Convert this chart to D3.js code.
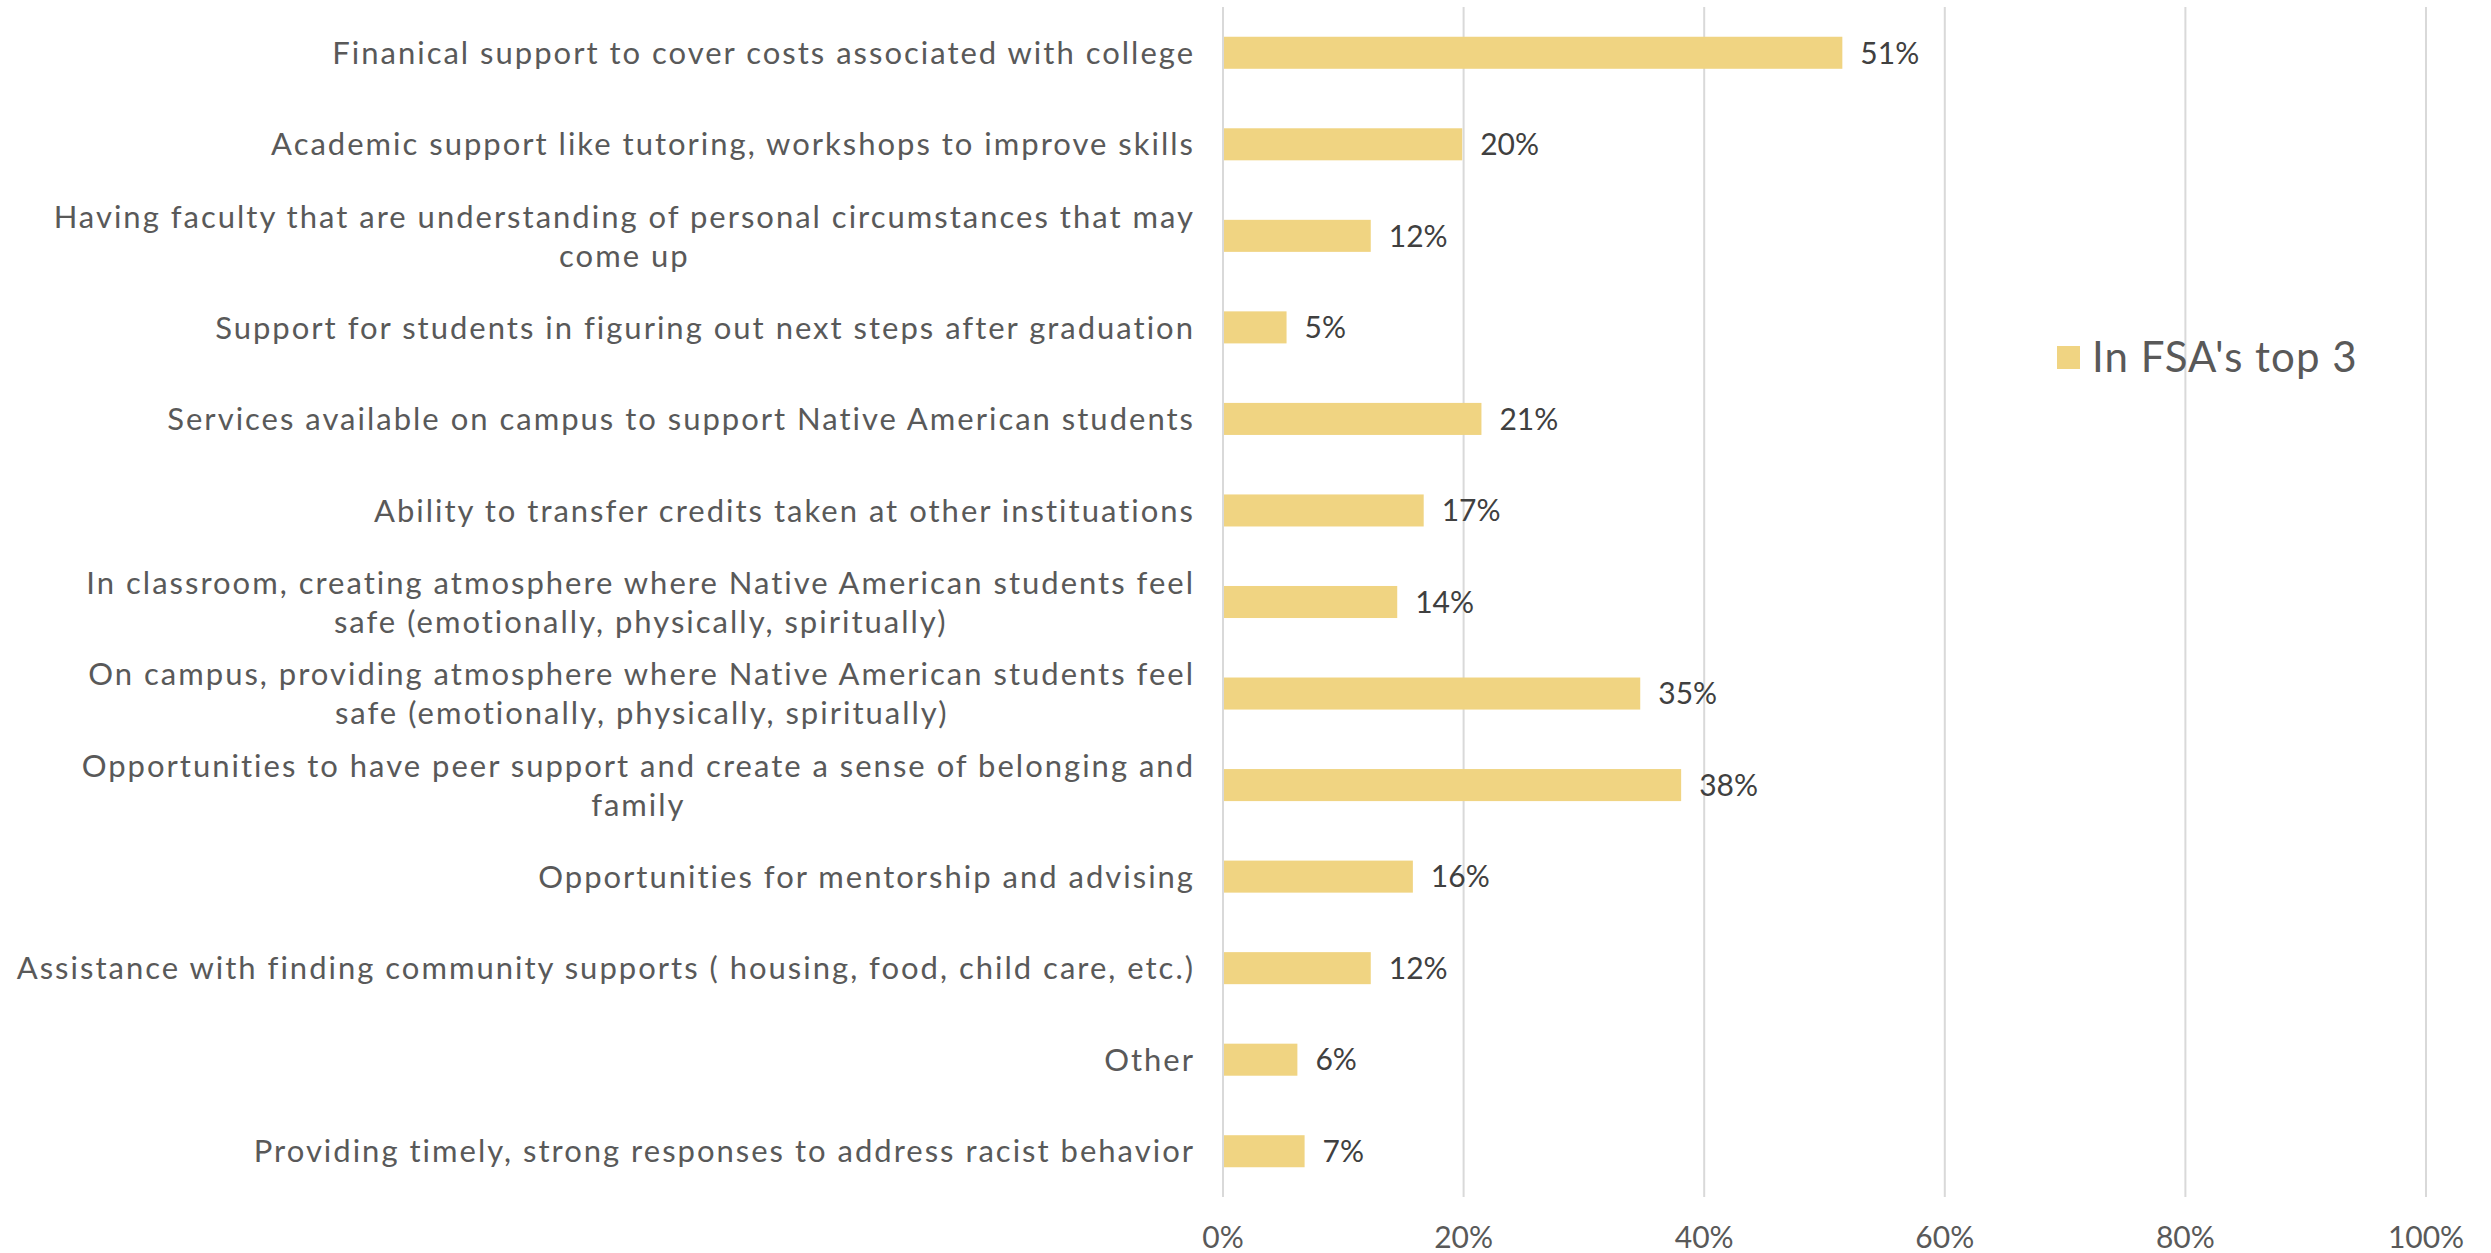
<!DOCTYPE html>
<html>
<head>
<meta charset="utf-8">
<script src="https://cdn.jsdelivr.net/npm/d3@7"></script>
<style>
  body { margin: 0; background: #fff; }
  svg { display: block; }
</style>
</head>
<body>
<div id="chart"></div>
<script>
"use strict";

// categories (line breaks as in the original chart)
var categories = [
    "Finanical support to cover costs associated with college",
    "Academic support like tutoring, workshops to improve skills",
    "Having faculty that are understanding of personal circumstances that may\ncome up",
    "Support for students in figuring out next steps after graduation",
    "Services available on campus to support Native American students",
    "Ability to transfer credits taken at other instituations",
    "In classroom, creating atmosphere where Native American students feel\nsafe (emotionally, physically, spiritually)",
    "On campus, providing atmosphere where Native American students feel\nsafe (emotionally, physically, spiritually)",
    "Opportunities to have peer support and create a sense of belonging and\nfamily",
    "Opportunities for mentorship and advising",
    "Assistance with finding community supports ( housing, food, child care, etc.)",
    "Other",
    "Providing timely, strong responses to address racist behavior"
];

// share of respondents with the item in their top 3 (%)
var values = [51.4, 19.8, 12.2, 5.2, 21.4, 16.6, 14.4, 34.6, 38.0, 15.7, 12.2, 6.1, 6.7];

var xTicks = [0, 20, 40, 60, 80, 100];
var seriesName = "In FSA's top 3";

var data = categories.map(function (c, i) { return { cat: c, value: values[i] }; });

// set the dimensions and margins of the graph
var W = 2491, H = 1253;
var margin = { top: 7, left: 1223, bottom: 56 },
    width = 1203,
    height = H - margin.top - margin.bottom;

var barColor = "#f0d482";
var fontFam = "'Century Gothic', Lato, 'DejaVu Sans', sans-serif";

var svg = d3.select("#chart").append("svg")
    .attr("width", W)
    .attr("height", H);

var g = svg.append("g")
    .attr("transform", "translate(" + margin.left + "," + margin.top + ")");

// set the ranges
var x = d3.scaleLinear().domain([0, 100]).range([0, width]);
var y = d3.scaleBand().domain(categories).range([0, height]).paddingInner(0.65).paddingOuter(0.325);

// gridlines
g.selectAll(".grid")
    .data(xTicks)
    .enter().append("line")
    .attr("x1", function (d) { return x(d); })
    .attr("x2", function (d) { return x(d); })
    .attr("y1", 0)
    .attr("y2", height)
    .style("stroke", "#d9d9d9")
    .style("stroke-width", 2);

// bars
g.selectAll(".bar")
    .data(data)
    .enter().append("rect")
    .attr("x", x(0) + 1)
    .attr("y", function (d) { return y(d.cat); })
    .attr("width", function (d) { return x(d.value) - x(0); })
    .attr("height", y.bandwidth())
    .style("fill", barColor);

// value labels
g.selectAll(".val")
    .data(data)
    .enter().append("text")
    .attr("x", function (d) { return x(d.value) + 19; })
    .attr("y", function (d) { return y(d.cat) + y.bandwidth() / 2; })
    .attr("dy", "0.36em")
    .style("font-family", fontFam)
    .style("font-size", "30px")
    .style("fill", "#404040")
    .text(function (d) { return Math.round(d.value) + "%"; });

// x axis tick labels
g.selectAll(".tick")
    .data(xTicks)
    .enter().append("text")
    .attr("x", function (d) { return x(d); })
    .attr("y", height + 40)
    .attr("dy", "0.36em")
    .attr("text-anchor", "middle")
    .style("font-family", fontFam)
    .style("font-size", "30px")
    .style("fill", "#595959")
    .text(function (d) { return d + "%"; });

// category labels: right aligned, wrapped lines centred on the block
var labelRight = -28, lineH = 39;
data.forEach(function (d) {
    var lines = d.cat.split("\n");
    var cy = y(d.cat) + y.bandwidth() / 2;
    var grp = g.append("g");
    var texts = lines.map(function (ln, i) {
        return grp.append("text")
            .attr("y", cy + (i - (lines.length - 1) / 2) * lineH)
            .attr("dy", "0.36em")
            .style("font-family", fontFam)
            .style("font-size", "31px")
            .style("letter-spacing", "2px")
            .style("fill", "#595959")
            .text(ln);
    });
    var maxW = d3.max(texts, function (t) { return t.node().getComputedTextLength(); });
    texts.forEach(function (t) {
        t.attr("x", labelRight - maxW / 2).attr("text-anchor", "middle");
    });
});

// legend
var legend = svg.append("g").attr("transform", "translate(2057,357)");
legend.append("rect")
    .attr("x", 0)
    .attr("y", -11)
    .attr("width", 23)
    .attr("height", 23)
    .style("fill", barColor);
legend.append("text")
    .attr("x", 35)
    .attr("y", 0)
    .attr("dy", "0.36em")
    .style("font-family", fontFam)
    .style("font-size", "42px")
    .style("letter-spacing", "1px")
    .style("fill", "#595959")
    .text(seriesName);
</script>
</body>
</html>
